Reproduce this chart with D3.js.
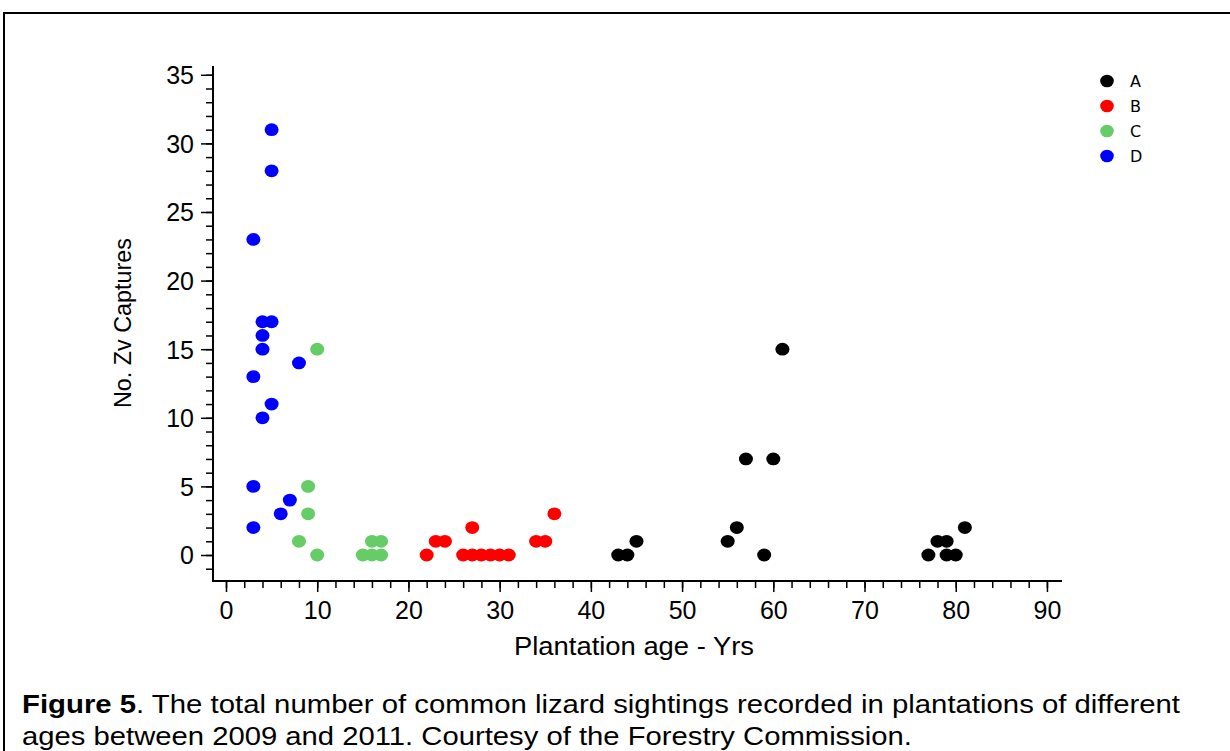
<!DOCTYPE html>
<html>
<head>
<meta charset="utf-8">
<script src="https://cdn.jsdelivr.net/npm/d3@7"></script>
<style>
  body { margin: 0; background: #fff; }
  svg { display: block; }
  .tick text { font-family: "Liberation Sans", Arial, sans-serif; }
</style>
</head>
<body>
<svg id="chart" width="1230" height="751"></svg>
<script>
// plantation age (x) and number of Zv captures (y), per group
var ageA = [43, 44, 45, 55, 56, 57, 59, 60, 61, 77, 78, 79, 79, 80, 81];
var capA = [0, 0, 1, 1, 2, 7, 0, 7, 15, 0, 1, 1, 0, 0, 2];

var ageB = [22, 23, 24, 26, 27, 28, 29, 30, 31, 27, 34, 35, 36];
var capB = [0, 1, 1, 0, 0, 0, 0, 0, 0, 2, 1, 1, 3];

var ageC = [10, 9, 9, 8, 10, 15, 16, 17, 16, 17];
var capC = [15, 5, 3, 1, 0, 0, 0, 0, 1, 1];

var ageD = [5, 5, 3, 4, 5, 4, 4, 8, 3, 5, 4, 3, 7, 6, 3];
var capD = [31, 28, 23, 17, 17, 16, 15, 14, 13, 11, 10, 5, 4, 3, 2];

var groups = ["A", "B", "C", "D"];
var groupColors = ["#000000", "#ff0000", "#66cc66", "#0000ff"];

var xTicks = d3.range(0, 91, 10);
var yTicks = d3.range(0, 36, 5);

drawChart();

function drawChart() {
    var svg = d3.select("#chart");
    var font = "'Liberation Sans', Arial, sans-serif";

    // frame round the figure
    svg.append("path")
        .attr("d", "M4,751 V13 H1230")
        .attr("fill", "none")
        .attr("stroke", "#000")
        .attr("stroke-width", 2);

    var x = d3.scaleLinear().domain([-1.425, 91.65]).range([213, 1062]);
    var y = d3.scaleLinear().domain([-1.895, 35.64]).range([581, 66]);

    var series = [
        { name: "A", ages: ageA, caps: capA },
        { name: "B", ages: ageB, caps: capB },
        { name: "C", ages: ageC, caps: capC },
        { name: "D", ages: ageD, caps: capD }
    ];

    // minor ticks
    svg.append("g")
        .attr("transform", "translate(213,0)")
        .call(d3.axisLeft(y).tickValues(d3.range(-1, 36, 1)).tickSize(7).tickFormat(""))
        .call(function(g) { g.select(".domain").remove(); })
        .selectAll("line").attr("stroke-width", 1.5);

    svg.append("g")
        .attr("transform", "translate(0,581)")
        .call(d3.axisBottom(x).tickValues(d3.range(0, 91, 2)).tickSize(7).tickFormat(""))
        .call(function(g) { g.select(".domain").remove(); })
        .selectAll("line").attr("stroke-width", 1.5);

    // major ticks
    var yAxis = svg.append("g")
        .attr("transform", "translate(213,0)")
        .call(d3.axisLeft(y).tickValues(yTicks).tickSize(12).tickPadding(7));
    yAxis.select(".domain").remove();
    yAxis.selectAll("line").attr("stroke-width", 1.5);
    yAxis.selectAll("text")
        .attr("font-size", 25)
        .attr("fill", "#000")
        .attr("dy", "0.36em");

    var xAxis = svg.append("g")
        .attr("transform", "translate(0,581)")
        .call(d3.axisBottom(x).tickValues(xTicks).tickSize(11).tickPadding(9));
    xAxis.select(".domain").remove();
    xAxis.selectAll("line").attr("stroke-width", 1.5);
    xAxis.selectAll("text")
        .attr("font-size", 25)
        .attr("fill", "#000");

    // axis lines
    svg.append("path")
        .attr("d", "M" + x.range()[0] + "," + y.range()[1] + " V" + y.range()[0] + " H" + x.range()[1])
        .attr("fill", "none")
        .attr("stroke", "#000")
        .attr("stroke-width", 2);

    // axis titles
    svg.append("text")
        .attr("x", 634)
        .attr("y", 655)
        .attr("text-anchor", "middle")
        .attr("font-family", font)
        .attr("font-size", 25)
        .attr("textLength", 240)
        .attr("lengthAdjust", "spacingAndGlyphs")
        .text("Plantation age - Yrs");

    svg.append("text")
        .attr("transform", "translate(131,323) rotate(-90)")
        .attr("text-anchor", "middle")
        .attr("font-family", font)
        .attr("font-size", 24)
        .attr("textLength", 170)
        .attr("lengthAdjust", "spacingAndGlyphs")
        .text("No. Zv Captures");

    // points
    series.forEach(function(s, i) {
        var pts = s.ages.map(function(a, j) { return { age: a, cap: s.caps[j] }; });
        svg.append("g")
            .selectAll("ellipse")
            .data(pts)
            .enter().append("ellipse")
            .attr("cx", function(d) { return x(d.age); })
            .attr("cy", function(d) { return y(d.cap); })
            .attr("rx", 7)
            .attr("ry", 6.4)
            .attr("fill", groupColors[i]);
    });

    // legend
    var legend = svg.append("g")
        .selectAll("g")
        .data(groups)
        .enter().append("g")
        .attr("transform", function(d, i) { return "translate(1107," + (81 + i * 25) + ")"; });
    legend.append("ellipse")
        .attr("rx", 6.8)
        .attr("ry", 6.3)
        .attr("fill", function(d, i) { return groupColors[i]; });
    legend.append("text")
        .attr("x", 23)
        .attr("dy", "0.36em")
        .attr("font-family", "'DejaVu Sans', sans-serif")
        .attr("font-size", 16)
        .text(function(d) { return d; });

    // caption
    var cap1 = svg.append("text")
        .attr("x", 22)
        .attr("y", 713)
        .attr("font-family", font)
        .attr("font-size", 25)
        .attr("textLength", 1158)
        .attr("lengthAdjust", "spacingAndGlyphs");
    cap1.append("tspan").attr("font-weight", "bold").text("Figure 5");
    cap1.append("tspan").text(". The total number of common lizard sightings recorded in plantations of different");

    svg.append("text")
        .attr("x", 22)
        .attr("y", 745)
        .attr("font-family", font)
        .attr("font-size", 25)
        .attr("textLength", 890)
        .attr("lengthAdjust", "spacingAndGlyphs")
        .text("ages between 2009 and 2011. Courtesy of the Forestry Commission.");
}
</script>
</body>
</html>
